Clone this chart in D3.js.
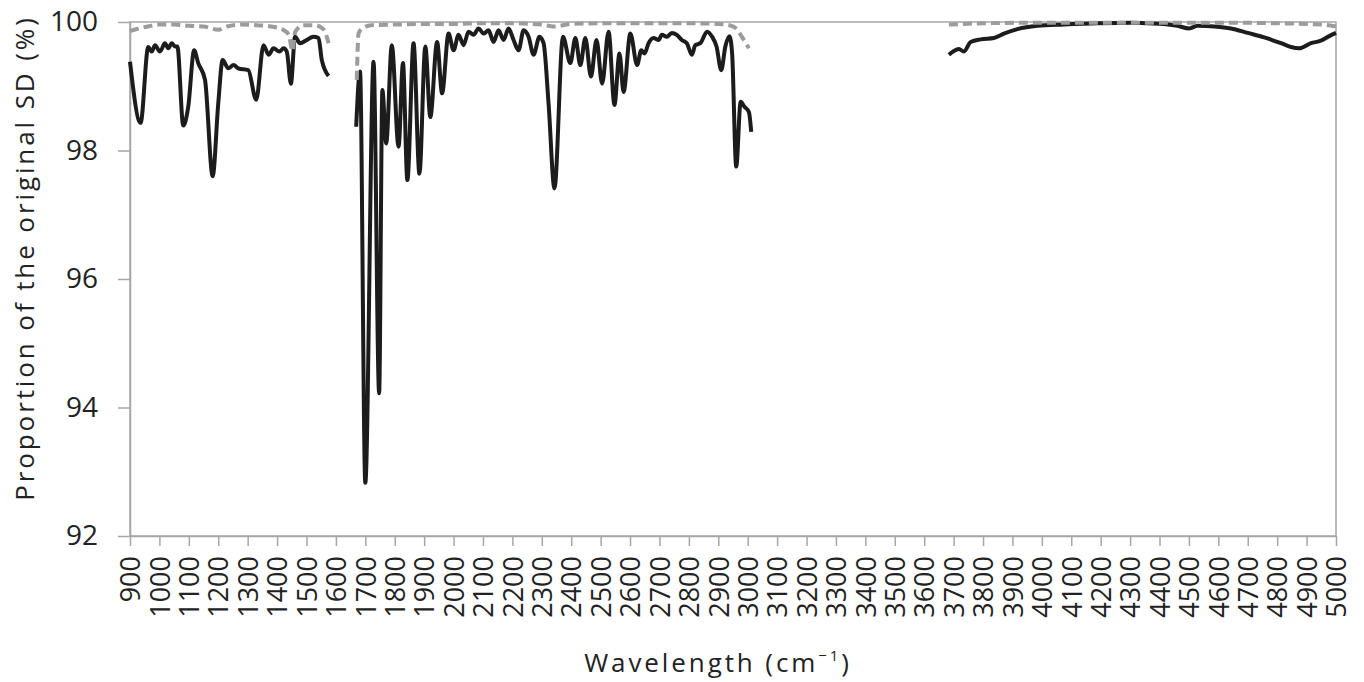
<!DOCTYPE html>
<html lang="en">
<head>
<meta charset="UTF-8">
<title>Proportion of the original SD</title>
<script src="https://d3js.org/d3.v7.min.js"></script>
<style>
    body { margin: 0; background: #fff; }
    text { font-family: "Open Sans", sans-serif; fill: #222; }
    .frame { fill: none; stroke: #a6a6a6; stroke-width: 1.5px; }
    .tick line { stroke: #a6a6a6; stroke-width: 1.5px; }
    .domain { stroke: #a6a6a6; stroke-width: 1.5px; }
    .solid { fill: none; stroke: #1c1c1c; stroke-width: 4px; stroke-linejoin: round; }
    .dashed { fill: none; stroke: #9c9c9c; stroke-width: 4px; stroke-dasharray: 9,5; }
    .title { letter-spacing: 2.9px; }
</style>
</head>
<body>
<svg id="chart" width="1364" height="682"></svg>
<script>
// wavelength ticks
const xTicks = d3.range(900, 5001, 100);
const yTicks = [92, 94, 96, 98, 100];

// solid line, three wavelength windows
const solid1 = [[900,99.38],[936,98.43],[962,99.61],[974,99.54],[985,99.64],[1002,99.54],[1019,99.67],
    [1030,99.59],[1042,99.67],[1053,99.62],[1061,99.62],[1081,98.39],[1098,98.68],[1118,99.56],
    [1132,99.36],[1155,99.10],[1181,97.60],[1200,98.73],[1215,99.41],[1234,99.28],[1252,99.33],
    [1268,99.28],[1302,99.25],[1329,98.79],[1354,99.64],[1371,99.49],[1388,99.59],[1408,99.54],
    [1422,99.59],[1433,99.54],[1447,99.04],[1461,99.77],[1478,99.67],[1501,99.72],[1523,99.77],
    [1541,99.75],[1552,99.41],[1575,99.16]];
const solid2 = [[1669,98.37],[1682,99.23],[1700,92.83],[1728,99.38],[1747,94.22],[1758,98.94],
    [1771,98.11],[1790,99.64],[1813,98.06],[1828,99.36],[1843,97.54],[1864,99.67],[1884,97.64],
    [1904,99.62],[1921,98.52],[1944,99.69],[1961,98.89],[1983,99.82],[2000,99.56],[2017,99.80],
    [2034,99.64],[2051,99.85],[2068,99.80],[2085,99.90],[2102,99.82],[2119,99.87],[2136,99.69],
    [2153,99.87],[2170,99.72],[2187,99.90],[2204,99.72],[2221,99.56],[2238,99.87],[2255,99.77],
    [2272,99.49],[2292,99.77],[2306,99.67],[2323,98.73],[2343,97.41],[2372,99.77],[2397,99.36],
    [2414,99.75],[2431,99.33],[2448,99.75],[2467,99.15],[2486,99.72],[2505,99.04],[2527,99.85],
    [2547,98.71],[2564,99.51],[2578,98.91],[2601,99.82],[2624,99.33],[2638,99.56],[2649,99.51],
    [2663,99.67],[2680,99.75],[2697,99.72],[2708,99.80],[2725,99.77],[2742,99.83],[2759,99.80],
    [2776,99.72],[2793,99.67],[2810,99.49],[2822,99.64],[2839,99.67],[2862,99.85],[2879,99.77],
    [2894,99.62],[2910,99.25],[2924,99.62],[2938,99.78],[2947,99.51],[2961,97.75],[2976,98.76],
    [2989,98.68],[3004,98.60],[3012,98.29]];
const solid3 = [[3684,99.49],[3701,99.55],[3718,99.58],[3735,99.54],[3758,99.69],[3792,99.73],
    [3837,99.75],[3871,99.82],[3917,99.89],[3985,99.94],[4075,99.96],[4189,99.98],[4302,99.99],
    [4359,99.98],[4415,99.97],[4461,99.94],[4501,99.90],[4529,99.94],[4586,99.93],[4643,99.90],
    [4700,99.83],[4756,99.76],[4813,99.67],[4847,99.61],[4875,99.59],[4915,99.67],[4949,99.71],
    [4977,99.78],[5000,99.83]];

// dashed line, same windows
const dashed1 = [[900,99.86],[930,99.90],[960,99.93],[1000,99.96],[1050,99.96],[1100,99.94],
    [1150,99.93],[1200,99.88],[1230,99.93],[1280,99.96],[1330,99.95],[1380,99.93],[1420,99.88],
    [1440,99.80],[1452,99.55],[1462,99.85],[1490,99.95],[1530,99.95],[1555,99.90],[1569,99.77],
    [1575,99.67]];
const dashed2 = [[1671,99.10],[1677,99.82],[1690,99.90],[1720,99.95],[1800,99.96],[1900,99.97],
    [2000,99.97],[2100,99.98],[2200,99.98],[2300,99.96],[2340,99.93],[2400,99.97],[2500,99.98],
    [2600,99.98],[2700,99.98],[2800,99.98],[2900,99.97],[2938,99.95],[2960,99.90],[2976,99.80],
    [2995,99.66],[3004,99.59]];
const dashed3 = [[3684,99.96],[3800,99.98],[4000,99.99],[4200,99.99],[4400,99.99],[4600,99.99],
    [4800,99.98],[4950,99.96],[5000,99.93]];

const svg = d3.select("#chart");
const m = {left: 130, right: 1336, top: 22, bottom: 536};

const x = d3.scaleLinear().domain([900, 5000]).range([m.left, m.right]);
const y = d3.scaleLinear().domain([92, 100]).range([m.bottom, m.top]);

// plot frame
svg.append("rect").attr("class", "frame")
    .attr("x", m.left).attr("y", m.top)
    .attr("width", m.right - m.left).attr("height", m.bottom - m.top);

// x axis
const xAxis = svg.append("g")
    .attr("transform", `translate(0,${m.bottom})`)
    .call(d3.axisBottom(x).tickValues(xTicks).tickSize(10).tickSizeOuter(0).tickFormat(d3.format("d")));
xAxis.selectAll("text")
    .attr("font-size", 27)
    .attr("transform", "rotate(-90)")
    .attr("text-anchor", "end")
    .attr("x", -20).attr("y", 0)
    .attr("dy", "0.36em");

// y axis
const yAxis = svg.append("g")
    .attr("transform", `translate(${m.left},0)`)
    .call(d3.axisLeft(y).tickValues(yTicks).tickSize(12).tickSizeOuter(0));
yAxis.selectAll("text").attr("font-size", 28).attr("x", -32);

// lines
const line = d3.line().x(d => x(d[0])).y(d => y(d[1])).curve(d3.curveMonotoneX);

[solid1, solid2, solid3].forEach(s => {
    svg.append("path").datum(s).attr("class", "solid").attr("d", line);
});
[dashed1, dashed2, dashed3].forEach(s => {
    svg.append("path").datum(s).attr("class", "dashed").attr("d", line);
});

// axis titles
const xt = svg.append("text")
    .attr("class", "title")
    .attr("x", 718).attr("y", 672)
    .attr("text-anchor", "middle")
    .attr("font-size", 26);
xt.append("tspan").text("Wavelength (cm");
xt.append("tspan").attr("font-size", 15).attr("dy", -11).text("\u22121");
xt.append("tspan").attr("dy", 11).text(")");

svg.append("text")
    .attr("class", "title")
    .attr("transform", "translate(34,258) rotate(-90)")
    .attr("text-anchor", "middle")
    .attr("font-size", 26)
    .text("Proportion of the original SD (%)");
</script>
</body>
</html>
